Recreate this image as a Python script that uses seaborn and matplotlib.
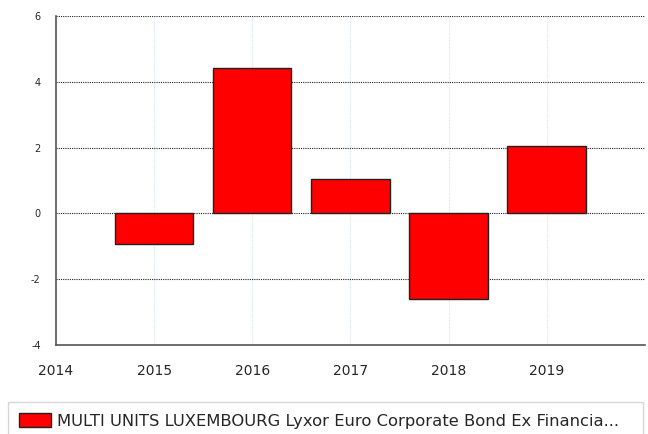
import matplotlib
matplotlib.use("Agg")
import matplotlib.pyplot as plt
import matplotlib.patches as mpatches
import seaborn as sns
import pandas as pd

years = [2015, 2016, 2017, 2018, 2019]
returns = [-0.92, 4.41, 1.06, -2.61, 2.04]
y_ticks = [-4, -2, 0, 2, 4, 6]
x_ticks = [2014, 2015, 2016, 2017, 2018, 2019]
series_name = "MULTI UNITS LUXEMBOURG Lyxor Euro Corporate Bond Ex Financia..."

df = pd.DataFrame({"year": years, "value": returns})

sns.set_style("white")
plt.rcParams["font.family"] = ["DejaVu Sans"]

fig = plt.figure(figsize=(6.48, 4.34), dpi=100)
ax = fig.add_axes([0.0864, 0.205, 0.9086, 0.758])

sns.barplot(data=df, x="year", y="value", native_scale=True, width=0.8,
            color="#ff0000", saturation=1, edgecolor="#222222", linewidth=1,
            ax=ax, zorder=3)

ax.set_xlim(2014, 2020)
ax.set_ylim(-4, 6)
ax.set_xticks(x_ticks)
ax.set_yticks(y_ticks)
ax.set_xticklabels([str(x) for x in x_ticks], fontsize=10)
ax.set_yticklabels([str(y) for y in y_ticks], fontsize=7)
ax.set_xlabel("")
ax.set_ylabel("")

# gridlines
for y in y_ticks[1:]:
    ax.axhline(y, color="#222222", linestyle=(0, (1, 1)), linewidth=0.8, zorder=1)
for x in x_ticks[1:]:
    ax.axvline(x, color="#d6e4f5", linestyle=(0, (1, 1)), linewidth=0.8, zorder=0)

ax.tick_params(axis="both", length=8, color="#cfe0f5", width=1, pad=3)
ax.tick_params(axis="x", pad=6)
for side in ["top", "right"]:
    ax.spines[side].set_visible(False)
for side in ["left", "bottom"]:
    ax.spines[side].set_color("#555555")
    ax.spines[side].set_linewidth(1.2)

# legend box at the bottom, running off the lower edge
handle = mpatches.Patch(facecolor="#ff0000", edgecolor="#222222", linewidth=1)
leg = fig.legend([handle], [series_name], loc="upper left",
                 bbox_to_anchor=(0.0123, 0.0737, 0.980, 0.0), mode="expand",
                 fontsize=11.8, frameon=True, fancybox=False, handlelength=1.95,
                 handleheight=0.85, borderpad=0.7, handletextpad=0.35,
                 borderaxespad=0)
leg.get_frame().set_edgecolor("#cccccc")
leg.get_frame().set_linewidth(1)

fig.savefig("out.png", dpi=100)
